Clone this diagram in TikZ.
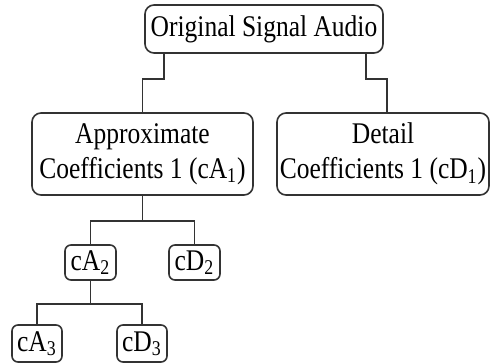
\documentclass[tikz,border=0pt]{standalone}
\usepackage{fontspec}
\setmainfont{Liberation Serif}[FakeStretch=0.85]
\usepackage{tikz}

\begin{document}
\begin{tikzpicture}[x=0.5pt, y=-0.5pt,
    box/.style={draw=black!80, line width=0.8pt, rounded corners=3pt, fill=white,
        inner sep=0pt, align=center, font=\fontsize{15}{17.5}\selectfont},
    bigbox/.style={box, rounded corners=4.5pt},
    wire/.style={draw=black!80, line width=0.9pt}]
    \useasboundingbox (0,0) rectangle (490,363);

    % Draw nodes
    \node[bigbox, minimum width=119pt, minimum height=24pt] (orig) at (264,29) {Original Signal Audio};
    \node[bigbox, minimum width=110.5pt, minimum height=41pt] (ca1) at (142.5,154) {Approximate\\Coefficients 1 (cA\textsubscript{1})};
    \node[bigbox, minimum width=106pt, minimum height=41pt] (cd1) at (383,154) {Detail\\Coefficients 1 (cD\textsubscript{1})};
    \node[box, minimum width=25.5pt, minimum height=17.5pt] (ca2) at (90.5,262.5) {cA\textsubscript{2}};
    \node[box, minimum width=25.5pt, minimum height=17.5pt] (cd2) at (194.5,262.5) {cD\textsubscript{2}};
    \node[box, minimum width=25pt, minimum height=18.5pt] (ca3) at (37,343.5) {cA\textsubscript{3}};
    \node[box, minimum width=25pt, minimum height=18.5pt] (cd3) at (142,343.5) {cD\textsubscript{3}};

    % Draw connections
    \draw[wire] (orig.south west) ++(20,0) -- ++(0,25) -| (ca1.north);
    \draw[wire] (orig.south east) ++(-18,0) -- ++(0,25) -| ([xshift=2pt]cd1.north);
    \draw[wire] (ca1.south) -- ++(0,25) -| (ca2.north);
    \draw[wire] (ca1.south) ++(0,25) -| (cd2.north);
    \draw[wire] (ca2.south) -- ++(0,23) -| (ca3.north);
    \draw[wire] (ca2.south) ++(0,23) -| (cd3.north);
\end{tikzpicture}
\end{document}
